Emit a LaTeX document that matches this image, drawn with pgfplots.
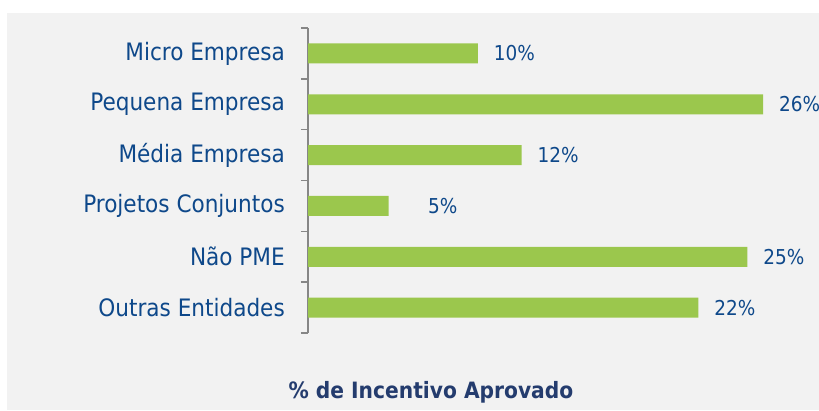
\documentclass[border=0pt]{standalone}
\usepackage{pgfplots}
\pgfplotsset{compat=1.18}
\usepackage{fontspec}
\setmainfont{DejaVu Sans Condensed}
\definecolor{bg}{HTML}{F2F2F2}
\definecolor{barc}{RGB}{155,199,77}
\definecolor{lab}{RGB}{14,72,138}
\definecolor{ttl}{RGB}{36,60,110}
\definecolor{axc}{RGB}{134,134,134}
\begin{document}
\begin{tikzpicture}[x=1pt,y=1pt]
\useasboundingbox (0,0) rectangle (819,-410);
\fill[white] (0,0) rectangle (819,-410);
\fill[bg] (7,-13) rectangle (819,-410);
\begin{axis}[
  at={(308pt,-333pt)}, anchor=south west,
  scale only axis, width=490pt, height=305pt,
  xmin=0, xmax=28, ymin=-0.5, ymax=5.5, y dir=reverse,
  axis x line=none, axis y line*=left,
  axis line style={axc, line width=1.5pt},
  xbar, bar width=20pt, clip=false,
  ytick={0,...,5},
  yticklabels={Micro Empresa, Pequena Empresa, Média Empresa, Projetos Conjuntos, Não PME, Outras Entidades},
  major tick length=0pt,
  yticklabel style={text=lab, font=\fontsize{24}{24}\selectfont, inner sep=0pt, xshift=-23pt},
  extra y ticks={-0.5,0.5,1.5,2.5,3.5,4.5,5.5},
  extra y tick labels={},
  extra y tick style={major tick length=7pt, tick align=outside, tick style={axc, line width=1.5pt}},
  point meta=explicit symbolic,
  nodes near coords,
  nodes near coords style={anchor=west, inner sep=0pt, xshift=16pt, text=lab, font=\fontsize{20.5}{20.5}\selectfont},
]
\addplot[draw=none, fill=barc] coordinates {
  (9.7,0) [10\%]
  (26,1) [26\%]
  (12.2,2) [12\%]
  (4.6,3) [\phantom{00}5\%]
  (25.1,4) [25\%]
  (22.3,5) [22\%]
};
\end{axis}
\node[anchor=base, text=ttl, font=\bfseries\fontsize{22.5}{22.5}\selectfont] at (431,-398) {\% de Incentivo Aprovado};
\end{tikzpicture}
\end{document}
